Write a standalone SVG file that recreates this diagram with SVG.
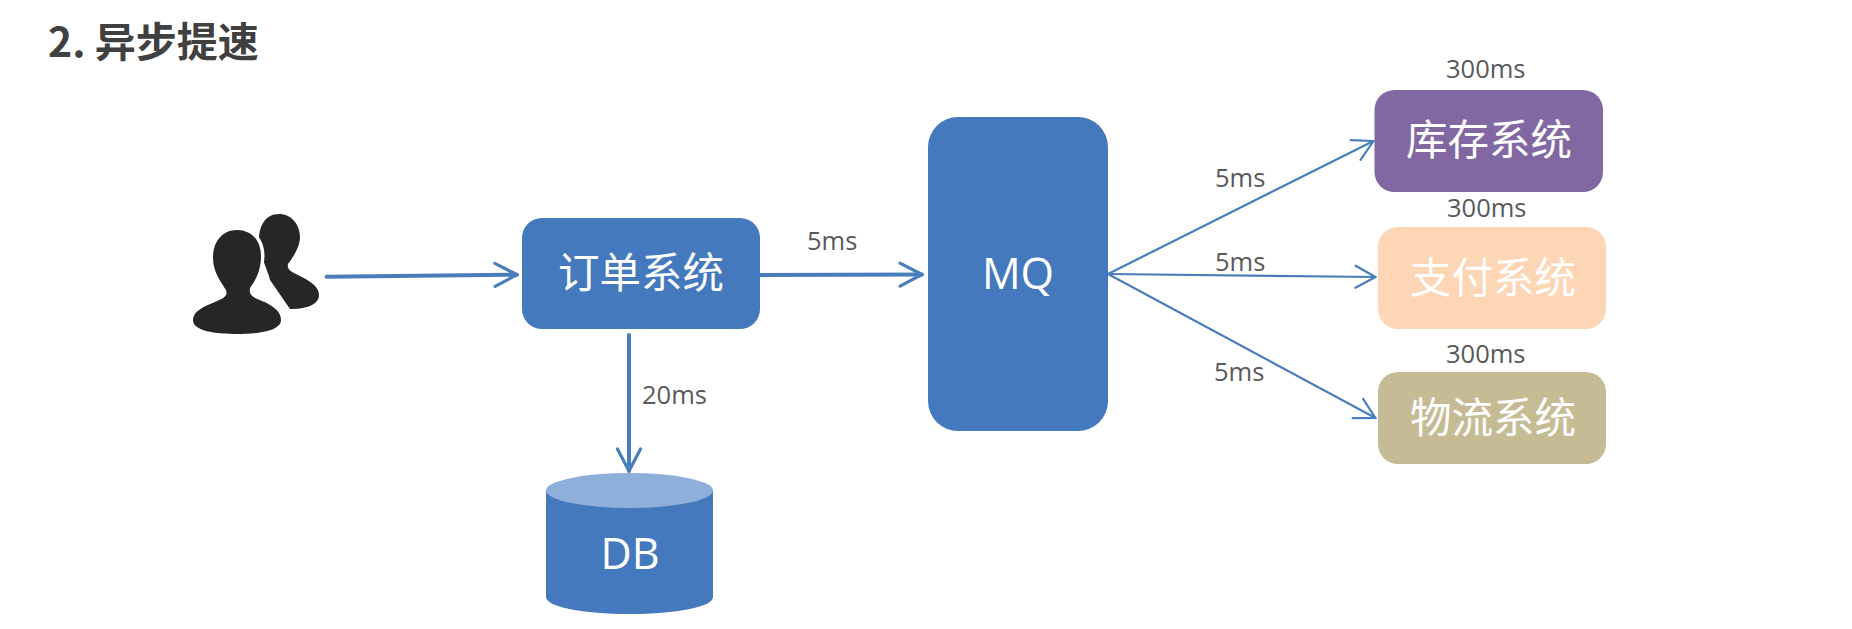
<svg xmlns="http://www.w3.org/2000/svg" width="1852" height="629" viewBox="0 0 1852 629">
<style>
text{font-family:"Open Sans","Noto Sans CJK SC",sans-serif}
.t{font-family:"Noto Sans CJK SC","Open Sans",sans-serif;font-size:41.500px;fill:#fff;text-anchor:middle}
.l{font-size:25.500px;fill:#595959}
.a{fill:none;stroke:#4a7ebb;stroke-linecap:round}
.thick{stroke-width:4;marker-end:url(#big)}
.thin{stroke-width:2.200;marker-end:url(#small)}
.blue{fill:#4579bd}
</style>
<defs>
<marker id="big" markerUnits="userSpaceOnUse" markerWidth="30" markerHeight="34" refX="25" refY="15" orient="auto"><path d="M3,3.500 L25,15 L3,26.500" fill="none" stroke="#4a7ebb" stroke-width="3.200" stroke-linecap="round" stroke-linejoin="round"/></marker>
<marker id="small" markerUnits="userSpaceOnUse" markerWidth="30" markerHeight="34" refX="25" refY="15" orient="auto"><path d="M5,4 L25,15 L5,26" fill="none" stroke="#4a7ebb" stroke-width="2.200" stroke-linecap="round" stroke-linejoin="round"/></marker>
</defs>
<rect width="1852" height="629" fill="#fff"/>
<text id="title" x="48" y="57" font-size="41" font-weight="700" fill="#404040" style="font-family:'Noto Sans CJK SC','Open Sans',sans-serif">2. 异步提速</text>
<g id="connectors">
<path class="a thick" d="M326.500,276.700 L517,274.700"/>
<path class="a thick" d="M760,275 L922,274.500"/>
<path class="a thick" d="M629,335 L629,471"/>
<path class="a thin" d="M1108,274 L1373.500,141"/>
<path class="a thin" d="M1108,274 L1375.500,277"/>
<path class="a thin" d="M1108,274 L1375.500,418"/>
<text class="l" x="807" y="250">5ms</text>
<text class="l" x="642" y="404">20ms</text>
<text class="l" x="1215" y="187">5ms</text>
<text class="l" x="1215" y="271">5ms</text>
<text class="l" x="1214" y="381">5ms</text>
</g>
<g id="users">
<path fill="#262626" d="M279,214 C266,214 259,225 259,240 C259,255 268,270 270,280 L290,309 C310,309 319,303 319,295 C319,285 306,279 296,274 C289,271 287,268 288,264 C295,255 300,245 300,237 C300,224 291,214 279,214Z"/>
<path fill="#262626" stroke="#fff" stroke-width="7" paint-order="stroke" d="M237,230 C222,230 213,242 213,258 C213,272 221,282 226,290 C228,296 224,298 215,302 C202,307 193,312 193,320 C193,331 215,334 237,334 C262,334 281,330 281,320 C281,311 272,305 262,301 C252,297 249,295 250,288 C256,280 261,270 261,256 C261,241 252,230 237,230Z"/>
</g>
<g id="order">
<rect class="blue" x="522" y="218" width="238" height="111" rx="20"/>
<text class="t" x="641" y="288">订单系统</text>
</g>
<g id="db">
<path class="blue" d="M546,490 V597 C546,607 583,614 629.500,614 C676,614 713,607 713,597 V490Z"/>
<ellipse cx="629.500" cy="490.500" rx="83.500" ry="17.500" fill="#8fafdb"/>
<text x="630" y="569" font-size="43" fill="#fff" text-anchor="middle">DB</text>
</g>
<g id="mq">
<rect class="blue" x="928" y="117" width="180" height="314" rx="30"/>
<text x="1018" y="289" font-size="43" fill="#fff" text-anchor="middle">MQ</text>
</g>
<g id="stock">
<rect x="1374.500" y="90" width="228.500" height="102" rx="20" fill="#8268a2"/>
<text class="t" x="1489" y="155">库存系统</text>
<text class="l" x="1446" y="78">300ms</text>
</g>
<g id="pay">
<rect x="1378" y="227" width="228" height="102" rx="20" fill="#fdd6b5"/>
<text class="t" x="1493" y="293">支付系统</text>
<text class="l" x="1447" y="217">300ms</text>
</g>
<g id="logistics">
<rect x="1378" y="372" width="228" height="92" rx="20" fill="#c5bb95"/>
<text class="t" x="1493" y="433">物流系统</text>
<text class="l" x="1446" y="363">300ms</text>
</g>
</svg>
